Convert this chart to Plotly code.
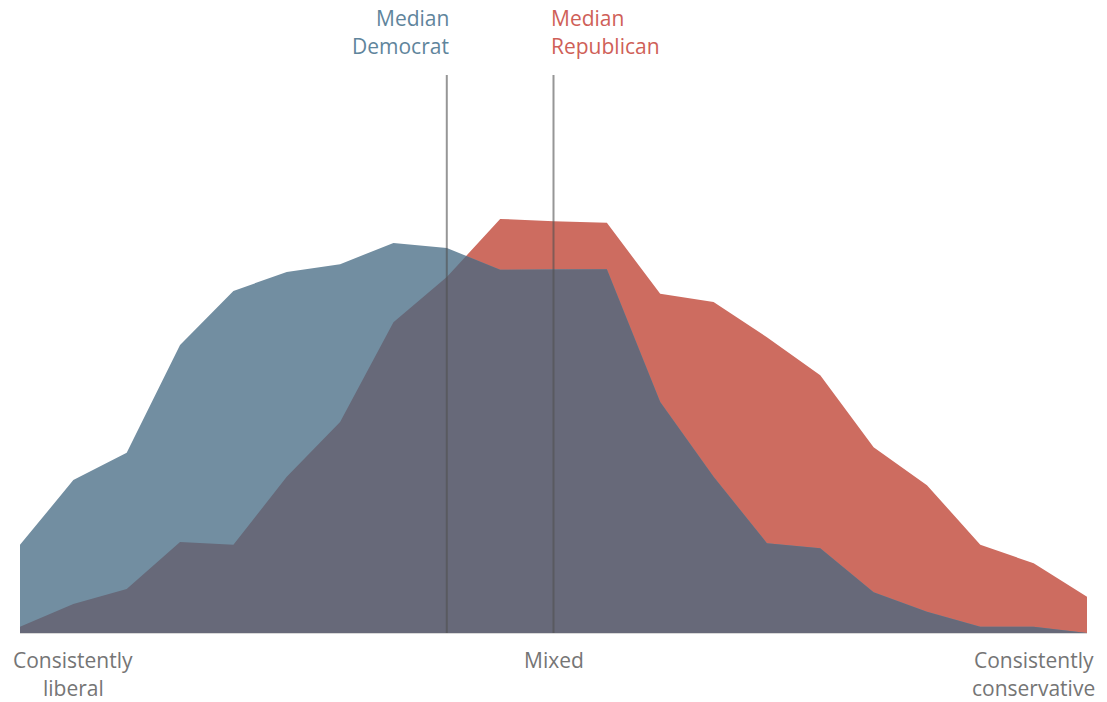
import plotly.graph_objects as go

# Ideological consistency scale: 21 positions, 0 = consistently liberal, 20 = consistently conservative
positions = list(range(21))
democrats = [1.58, 2.74, 3.23, 5.16, 6.13, 6.47, 6.61, 6.99, 6.90, 6.51, 6.52,
             6.52, 4.14, 2.80, 1.61, 1.52, 0.73, 0.38, 0.11, 0.11, 0.0]
republicans = [0.11, 0.52, 0.79, 1.63, 1.58, 2.80, 3.78, 5.57, 6.38, 7.42, 7.38,
               7.35, 6.08, 5.93, 5.30, 4.62, 3.33, 2.65, 1.58, 1.25, 0.65]
median_dem = 8
median_rep = 10
dem_label = ["Median", "Democrat"]
rep_label = ["Median", "Republican"]
axis_labels = [(1, ["Consistently", "liberal"]),
               (10, ["Mixed"]),
               (19, ["Consistently", "conservative"])]

BLUE = "#728EA1"
RED = "#CD6C60"
OVERLAP = "#676979"


def overlap_curve(xs, a, b):
    ox, oy = [], []
    for i in range(len(xs)):
        if i > 0:
            d0 = a[i - 1] - b[i - 1]
            d1 = a[i] - b[i]
            if d0 * d1 < 0:
                t = d0 / (d0 - d1)
                ox.append(xs[i - 1] + t * (xs[i] - xs[i - 1]))
                oy.append(a[i - 1] + t * (a[i] - a[i - 1]))
        ox.append(xs[i])
        oy.append(min(a[i], b[i]))
    return ox, oy


ox, oy = overlap_curve(positions, democrats, republicans)

fig = go.Figure()
fig.add_trace(go.Scatter(x=positions, y=republicans, mode="lines", line=dict(width=0),
                         fill="tozeroy", fillcolor=RED, hoverinfo="skip"))
fig.add_trace(go.Scatter(x=positions, y=democrats, mode="lines", line=dict(width=0),
                         fill="tozeroy", fillcolor=BLUE, hoverinfo="skip"))
fig.add_trace(go.Scatter(x=ox, y=oy, mode="lines", line=dict(width=0),
                         fill="tozeroy", fillcolor=OVERLAP, hoverinfo="skip"))

for xm in (median_dem, median_rep):
    fig.add_shape(type="line", x0=xm, x1=xm, y0=0, y1=10, xref="x", yref="y",
                  line=dict(color="rgba(80,80,80,0.6)", width=2), layer="above")

FONT = "Open Sans"
SIZE = 21
top_shifts = [57, 29]
for k, line in enumerate(dem_label):
    fig.add_annotation(x=median_dem, y=1, xref="x", yref="paper", yshift=top_shifts[k], xshift=4,
                       text=line, showarrow=False, xanchor="right", yanchor="middle",
                       font=dict(family=FONT, size=SIZE, color="#5F859C"))
for k, line in enumerate(rep_label):
    fig.add_annotation(x=median_rep, y=1, xref="x", yref="paper", yshift=top_shifts[k], xshift=-5,
                       text=line, showarrow=False, xanchor="left", yanchor="middle",
                       font=dict(family=FONT, size=SIZE, color="#CF5F58"))

bottom_shifts = [-27, -55]
for xv, lines in axis_labels:
    for k, line in enumerate(lines):
        fig.add_annotation(x=xv, y=0, xref="x", yref="paper", yshift=bottom_shifts[k],
                           text=line, showarrow=False, xanchor="center", yanchor="middle",
                           font=dict(family=FONT, size=SIZE, color="#757575"))

fig.update_layout(
    width=1107, height=702,
    margin=dict(l=20, r=20, t=75, b=69),
    paper_bgcolor="white", plot_bgcolor="white",
    showlegend=False,
    xaxis=dict(range=[0, 20], showgrid=False, zeroline=False, showticklabels=False,
               showline=True, linecolor="#d8d8d8", linewidth=1, fixedrange=True),
    yaxis=dict(range=[0, 10], showgrid=False, zeroline=False, showticklabels=False,
               showline=False, fixedrange=True),
)

fig.write_html("out.html", config={"displayModeBar": False},
               post_script="document.body.style.margin='0';")
